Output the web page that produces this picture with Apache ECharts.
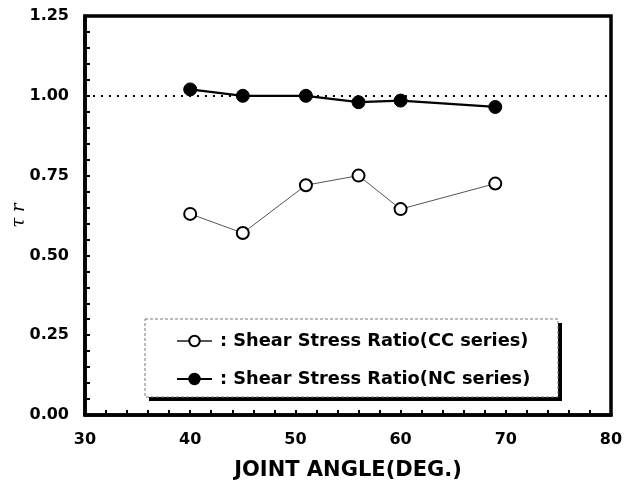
<!DOCTYPE html>
<html>
<head>
<meta charset="utf-8">
<script src="https://cdn.jsdelivr.net/npm/echarts@6/dist/echarts.min.js"></script>
<style>
  html, body { margin: 0; padding: 0; background: #fff; }
  #chart { width: 636px; height: 482px; }
</style>
</head>
<body>
<div id="chart"></div>
<script>
// Joint angles (degrees) at which specimens were tested
const jointAngles = [40, 45, 51, 56, 60, 69];
// Shear stress ratio, CC series (open circles)
const ccRatio = [0.63, 0.57, 0.72, 0.75, 0.645, 0.725];
// Shear stress ratio, NC series (filled circles)
const ncRatio = [1.02, 1.0, 1.0, 0.98, 0.985, 0.965];
// Reference level drawn as a dotted line
const referenceRatio = 1.0;
const seriesNames = ['Shear Stress Ratio(CC series)', 'Shear Stress Ratio(NC series)'];

const pairs = (xs, ys) => xs.map((x, i) => [x, ys[i]]);
const boldFont = 'DejaVu Sans';

const chart = echarts.init(document.getElementById('chart'), null, { renderer: 'canvas' });

chart.setOption({
  backgroundColor: '#ffffff',
  animation: false,
  grid: {
    left: 85, right: 25, top: 16, bottom: 67,
    outerBoundsMode: 'none', containLabel: false,
    show: true, borderColor: '#000', borderWidth: 3.5, backgroundColor: 'transparent'
  },
  xAxis: {
    type: 'value', min: 30, max: 80, interval: 10,
    name: 'JOINT ANGLE(DEG.)', nameLocation: 'middle', nameGap: 45, nameMoveOverlap: false,
    nameTextStyle: { fontFamily: boldFont, fontWeight: 'bold', fontSize: 21, color: '#000' },
    axisLine: { show: true, lineStyle: { color: '#000', width: 3.5 } },
    axisTick: { show: true, inside: true, length: 5, lineStyle: { color: '#000', width: 2 } },
    minorTick: { show: true, splitNumber: 5, length: 5, lineStyle: { color: '#000', width: 2 } },
    axisLabel: { margin: 17, fontFamily: boldFont, fontWeight: 'bold', fontSize: 16, color: '#000' },
    splitLine: { show: false }
  },
  yAxis: {
    type: 'value', min: 0, max: 1.25, interval: 0.25,
    name: 'τ r', nameLocation: 'middle', nameRotate: 90, nameGap: 57, nameMoveOverlap: false,
    nameTextStyle: { fontFamily: 'DejaVu Serif', fontStyle: 'italic', fontSize: 18, color: '#000' },
    axisLine: { show: true, lineStyle: { color: '#000', width: 3.5 } },
    axisTick: { show: true, inside: true, length: 5, lineStyle: { color: '#000', width: 2 } },
    minorTick: { show: true, splitNumber: 5, length: 5, lineStyle: { color: '#000', width: 2 } },
    axisLabel: {
      margin: 16, fontFamily: boldFont, fontWeight: 'bold', fontSize: 16, color: '#000',
      formatter: v => v.toFixed(2)
    },
    splitLine: { show: false }
  },
  legend: {
    orient: 'vertical', left: 176, top: 332, itemGap: 20, padding: 0,
    itemWidth: 35, itemHeight: 13, z: 20,
    data: seriesNames,
    formatter: name => ': ' + name,
    textStyle: { fontFamily: boldFont, fontWeight: 'bold', fontSize: 17.8, color: '#000', padding: [0, 0, 0, 3] }
  },
  graphic: [
    // drop shadow of the legend box
    { type: 'rect', z: 8, shape: { x: 149, y: 323, width: 413, height: 78 }, style: { fill: '#000' } },
    // legend box
    { type: 'rect', z: 9, shape: { x: 145, y: 319, width: 413, height: 78 },
      style: { fill: '#fff', stroke: '#777', lineWidth: 1, lineDash: [3, 2] } }
  ],
  series: [
    {
      name: seriesNames[0], type: 'line', data: pairs(jointAngles, ccRatio),
      symbol: 'circle', symbolSize: 12,
      itemStyle: { color: '#fff', borderColor: '#000', borderWidth: 2 },
      lineStyle: { color: '#555', width: 1 },
      z: 3
    },
    {
      name: seriesNames[1], type: 'line', data: pairs(jointAngles, ncRatio),
      symbol: 'circle', symbolSize: 13,
      itemStyle: { color: '#000', borderColor: '#000', borderWidth: 1 },
      lineStyle: { color: '#000', width: 2.2 },
      z: 3,
      markLine: {
        silent: true, symbol: 'none', label: { show: false },
        lineStyle: { color: '#000', type: [2, 6], width: 2 },
        data: [{ yAxis: referenceRatio }],
        z: 2
      }
    }
  ]
});
</script>
</body>
</html>
